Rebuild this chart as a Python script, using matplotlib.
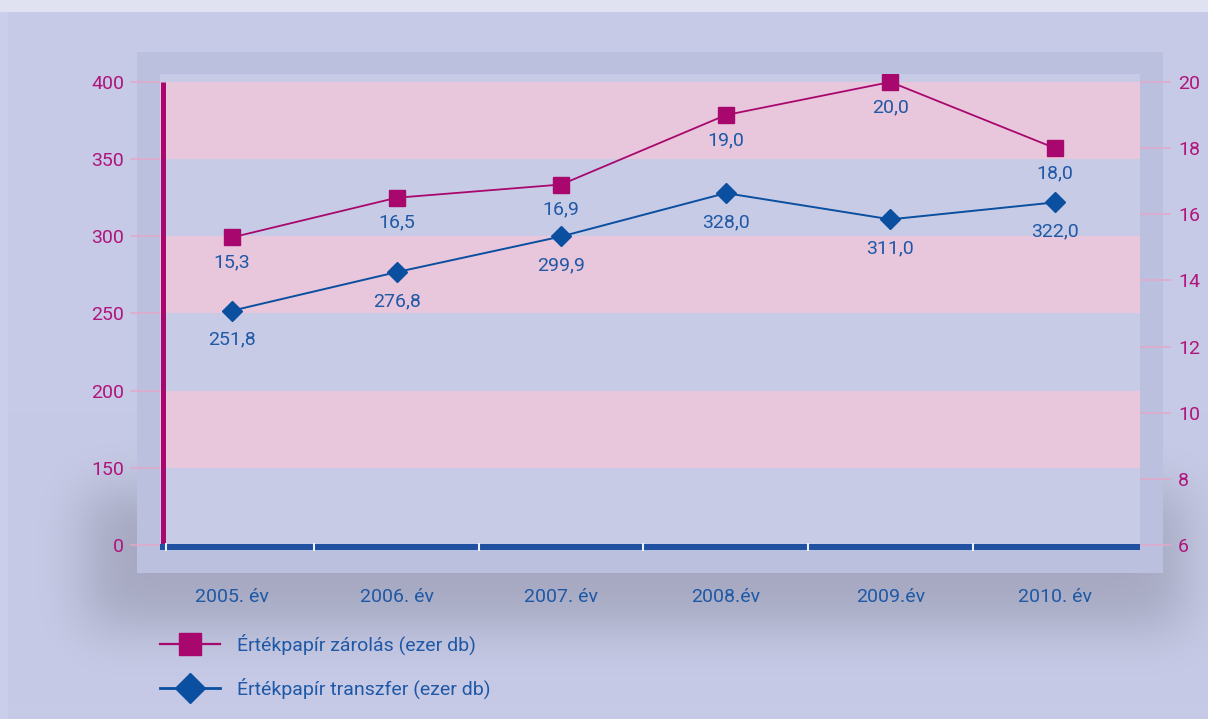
import numpy as np
import matplotlib
matplotlib.use("Agg")
import matplotlib.pyplot as plt
from matplotlib import transforms
from matplotlib.patches import Rectangle

plt.rcParams['font.family'] = ['Roboto', 'DejaVu Sans']

# ---------------- data ----------------
categories = ["2005. év", "2006. év", "2007. év", "2008.év", "2009.év", "2010. év"]
zarolas = [15.3, 16.5, 16.9, 19.0, 20.0, 18.0]          # right axis
transzfer = [251.8, 276.8, 299.9, 328.0, 311.0, 322.0]  # left axis
zarolas_name = "Értékpapír zárolás (ezer db)"
transzfer_name = "Értékpapír transzfer (ezer db)"
left_ticks = [100, 150, 200, 250, 300, 350, 400]        # broken axis: bottom shown as 0
left_tick_labels = ["0", "150", "200", "250", "300", "350", "400"]
right_ticks = [6, 8, 10, 12, 14, 16, 18, 20]

# ---------------- style ----------------
PINK = "#a8086e"
BLUE = "#0a4fa0"
LBLUE = "#1e58a6"
MAG = "#b0157c"
TICKC = "#e2a8c8"
BAND = "#e8c6dc"
INNER = "#c8cbe6"
PANEL = "#bcc0df"

W, H = 1208, 719
fig = plt.figure(figsize=(W / 100, H / 100), dpi=100)

# background with soft shadow
bg = fig.add_axes([0, 0, 1, 1])
bg.set_xlim(0, W)
bg.set_ylim(H, 0)
bg.axis("off")
base = np.array([198, 202, 230]) / 255
img = np.ones((H, W, 3)) * base
mask = np.zeros((H, W))
mask[490:628, 85:1185] = 1.0
sigma = 26
kx = np.arange(-3 * sigma, 3 * sigma + 1)
k = np.exp(-0.5 * (kx / sigma) ** 2)
k /= k.sum()
mask = np.apply_along_axis(lambda r: np.convolve(r, k, mode="same"), 1, mask)
mask = np.apply_along_axis(lambda c: np.convolve(c, k, mode="same"), 0, mask)
shadow = np.array([136, 138, 158]) / 255
a = 0.52 * mask
img = img * (1 - a[..., None]) + shadow * a[..., None]
img[:, 0:8] = np.array([202, 206, 234]) / 255
img[0:12, :] = np.array([224, 226, 242]) / 255
bg.imshow(img, extent=(0, W, H, 0), interpolation="nearest", aspect="auto", zorder=0)
bg.add_patch(Rectangle((137, 52), 1026, 521, color=PANEL, lw=0, zorder=1))

# main axes
ax = fig.add_axes([160 / W, (H - 547) / H, 980 / W, 473 / H])
ax.set_facecolor(INNER)
x = np.arange(len(categories))
ax.set_xlim(-0.437, 5.516)
ax.set_ylim(98.70, 405.18)
for lo in (150, 250, 350):
    ax.axhspan(lo, lo + 50, color=BAND, lw=0, zorder=0)

ax2 = ax.twinx()
ax2.set_ylim(5.9395, 20.242)

for s in ax.spines.values():
    s.set_visible(False)
for s in ax2.spines.values():
    s.set_visible(False)

ax.plot(x, transzfer, color=BLUE, lw=1.4, marker="D", ms=10, mec=BLUE, mfc=BLUE, zorder=3)
ax2.plot(x, zarolas, color=PINK, lw=1.3, marker="s", ms=11.3, mec=PINK, mfc=PINK, zorder=3)

def fmt(v):
    return f"{v:.1f}".replace(".", ",")

for xi, v in zip(x, transzfer):
    ax.annotate(fmt(v), (xi, v), xytext=(0, -20.9), textcoords="offset points",
                ha="center", va="center", color=LBLUE, fontsize=14)
for xi, v in zip(x, zarolas):
    ax2.annotate(fmt(v), (xi, v), xytext=(0, -18), textcoords="offset points",
                 ha="center", va="center", color=LBLUE, fontsize=14)

# spines drawn manually
trans_y = transforms.blended_transform_factory(ax.transAxes, ax.transData)
ax.plot([2.5 / 980, 2.5 / 980], [400, 100.6], transform=trans_y, color=PINK, lw=3.6,
        solid_capstyle="butt", clip_on=False, zorder=5)
ax.plot([0, 1], [0, 0], transform=ax.transAxes, color="#2050a0", lw=4.32,
        solid_capstyle="butt", clip_on=False, zorder=6)
trans_x = transforms.blended_transform_factory(ax.transData, ax.transAxes)
for b in [0.5, 1.5, 2.5, 3.5, 4.5]:
    ax.plot([b, b], [-0.009, 0.009], transform=trans_x, color="#eef0f8", lw=1.5,
            solid_capstyle="butt", clip_on=False, zorder=7)
ax.plot([6 / 980, 6 / 980], [-0.009, 0.009], transform=ax.transAxes, color="#eef0f8",
        lw=1.5, solid_capstyle="butt", clip_on=False, zorder=7)

# ticks
ax.set_yticks(left_ticks, left_tick_labels)
ax.tick_params(axis="y", length=21.6, width=1.1, color=TICKC, pad=4.3,
               labelcolor=MAG, labelsize=14)
ax2.set_yticks(right_ticks)
ax2.tick_params(axis="y", length=22.3, width=1.1, color=TICKC, pad=5,
                labelcolor=MAG, labelsize=14)
ax.set_xticks(x, categories)
ax.tick_params(axis="x", length=0, pad=29.5, labelcolor=LBLUE, labelsize=14)

# legend (manual, pixel coordinates)
bg.plot([160, 220], [644, 644], color=PINK, lw=1.6, zorder=3)
bg.plot([190], [644], marker="s", ms=16.3, color=PINK, zorder=4)
bg.text(237, 644, zarolas_name, ha="left", va="center", fontsize=14, color=LBLUE, zorder=4)
bg.plot([160, 220], [688, 688], color=BLUE, lw=2.0, zorder=3)
bg.plot([190], [688], marker="D", ms=15.4, color=BLUE, zorder=4)
bg.text(237, 688, transzfer_name, ha="left", va="center", fontsize=14, color=LBLUE, zorder=4)

fig.savefig("out.png", dpi=100)
